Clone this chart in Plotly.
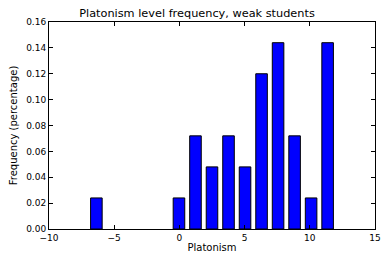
import plotly.graph_objects as go

bin_start = -7.0
bin_end = 12.0
n_bins = 15
frequency = [0.024, 0.0, 0.0, 0.0, 0.0, 0.024, 0.072, 0.048, 0.072, 0.048,
             0.120, 0.144, 0.072, 0.024, 0.144]
x_ticks = [-10, -5, 0, 5, 10, 15]
y_ticks = [0.00, 0.02, 0.04, 0.06, 0.08, 0.10, 0.12, 0.14, 0.16]

bw = (bin_end - bin_start) / n_bins
centers = [bin_start + bw * (i + 0.5) for i in range(n_bins)]
xs = [c for c, v in zip(centers, frequency) if v > 0]
ys = [v for v in frequency if v > 0]

font = "DejaVu Sans"
fig = go.Figure(go.Bar(
    x=xs, y=ys, width=bw * 0.7,
    marker=dict(color="#0000ff", line=dict(color="black", width=1)),
    hoverinfo="skip",
))
fig.update_layout(
    width=381, height=253,
    margin=dict(l=49, r=6, t=22, b=24),
    paper_bgcolor="white", plot_bgcolor="white",
    showlegend=False,
    font=dict(family=font, color="black", size=9),
    title=dict(text="Platonism level frequency, weak students",
               x=197 / 381, xanchor="center", xref="container",
               y=1 - 13 / 253, yanchor="middle",
               font=dict(size=11.3, family=font, color="black")),
)
axis_common = dict(showgrid=False, zeroline=False, showline=True, linecolor="black",
                   linewidth=1, mirror="ticks", ticks="inside", ticklen=4,
                   tickcolor="black", tickfont=dict(size=9, family=font, color="black"))
fig.update_xaxes(range=[-10, 15], tickvals=x_ticks, ticktext=[("\u2212" + str(-t)) if t < 0 else str(t) for t in x_ticks],
                 title=dict(text="Platonism", font=dict(size=10, family=font), standoff=5),
                 automargin=False, **axis_common)
fig.update_yaxes(range=[0, 0.16], tickvals=y_ticks, ticktext=["%.2f" % t for t in y_ticks],
                 title=dict(text="Frequency (percentage)", font=dict(size=10, family=font), standoff=6),
                 automargin=False, **axis_common)
fig.write_html("out.html", config={"displayModeBar": False, "staticPlot": True},
               post_script="document.body.style.margin='0';document.body.style.overflow='hidden';")
